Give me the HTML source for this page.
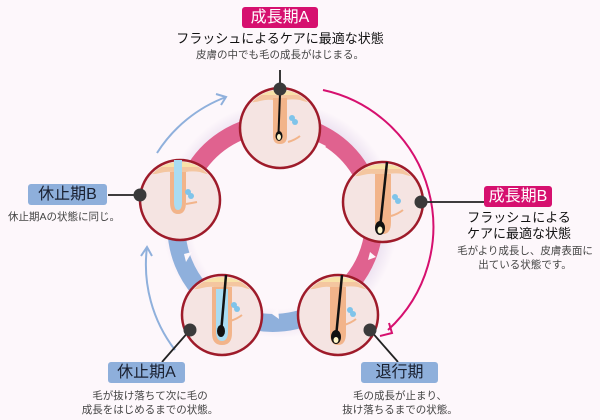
<!DOCTYPE html>
<html><head><meta charset="utf-8"><style>
html,body{margin:0;padding:0;background:#fdf7fb;}
body{width:600px;height:420px;position:relative;overflow:hidden;font-family:"Liberation Sans","Noto Sans CJK JP",sans-serif;}
.t{position:absolute;text-align:center;white-space:nowrap;color:#222;}
.box{position:absolute;border-radius:3px;text-align:center;font-size:16px;line-height:21px;}
.pk{background:#d6106f;color:#fff;}
.bl{background:#8eafdb;color:#1a2030;}
.s{font-size:10.5px;color:#444;line-height:14px;}
.m{font-size:13px;color:#111;line-height:16px;}
</style></head><body>
<svg width="600" height="420" style="position:absolute;left:0;top:0">
<defs>
<radialGradient id="glow" cx="50%" cy="50%" r="50%"><stop offset="75%" stop-color="#fdf7fb"/><stop offset="88%" stop-color="#eee4f2"/><stop offset="100%" stop-color="#fdf7fb"/></radialGradient>
<clipPath id="cc"><circle r="38"/></clipPath>
<g id="cir">
<circle r="40" fill="#f5e4e2"/>
<g clip-path="url(#cc)">
<path d="M-40,-40 H40 V-26 Q30,-24 20,-28 Q8,-30 0,-26 Q-10,-30 -20,-27 Q-30,-24 -40,-28Z" fill="#f4c6a0"/>
<rect x="-40" y="-40" width="80" height="7" fill="#f8e2a8"/>
</g>
<circle r="40" fill="none" stroke="#9e1b2a" stroke-width="2.5"/>
</g>
</defs>
<circle cx="280" cy="220" r="118" fill="url(#glow)"/>
<g fill="none" stroke-width="18">
<path d="M 196 168 A 97 97 0 0 1 360 170" stroke="#e0628f"/>
<path d="M 360 170 A 97 97 0 0 1 352 282" stroke="#e0628f"/>
<path d="M 352 282 A 97 97 0 0 1 200 290" stroke="#8fb0dc"/>
<path d="M 200 290 A 97 97 0 0 1 196 168" stroke="#8fb0dc"/>
</g>
<g fill="#fdf7fb">
<path d="M255 128 l6 7 l-6 7z" opacity=".8"/>
<path d="M318 142 l8 4 l-5 7z"/>
<path d="M370 252 l6 5 l-8 3z"/>
<path d="M278 307 l-6 7 l7 5z"/>
<path d="M186 262 l-2 -8 l8 -2z"/>
</g>
<path d="M 323 90 A 140 140 0 0 1 388 330" fill="none" stroke="#d6106f" stroke-width="2"/>
<path d="M 380 336 l12 -3 l-3 -10" fill="none" stroke="#d6106f" stroke-width="2"/>
<path d="M 157 153 A 140 140 0 0 1 226 97" fill="none" stroke="#8fb0dc" stroke-width="2"/>
<path d="M 216 94 l10 3 l-5 8" fill="none" stroke="#8fb0dc" stroke-width="2"/>
<path d="M 175 350 A 140 140 0 0 1 147 247" fill="none" stroke="#8fb0dc" stroke-width="2"/>
<path d="M 141 256 l6 -9 l5 9" fill="none" stroke="#8fb0dc" stroke-width="2"/>
<g stroke="#222" stroke-width="1.8">
<line x1="280" y1="70" x2="280" y2="88"/>
<line x1="420" y1="202" x2="484" y2="202"/>
<line x1="108" y1="195" x2="140" y2="195"/>
<line x1="190" y1="330" x2="162" y2="362"/>
<line x1="370" y1="330" x2="398" y2="362"/>
</g>
<g transform="translate(280,128)"><use href="#cir"/>
<path d="M-7,-30 L-7,8 Q-7,16 0,16 Q7,16 7,8 L7,-30" fill="#f2b48a"/>
<path d="M0,-34 L-1.5,6" stroke="#111" stroke-width="2"/><ellipse cx="-1" cy="8" rx="3.5" ry="5" fill="#111"/><ellipse cx="-1" cy="9" rx="2" ry="3" fill="#fff6c8"/>
<circle cx="12" cy="-10" r="3" fill="#7fc4ea"/><circle cx="15" cy="-6" r="3" fill="#7fc4ea"/><path d="M8,14 Q15,12 20,8" stroke="#f2b48a" stroke-width="2" fill="none"/></g>
<g transform="translate(383,202)"><use href="#cir"/>
<path d="M-8,-28 L-8,20 Q-8,32 0,32 Q8,32 8,20 L8,-28" fill="#f2b48a"/>
<path d="M4,-40 L-3,26" stroke="#111" stroke-width="2.5"/><ellipse cx="-3" cy="26" rx="5" ry="7" fill="#111"/><ellipse cx="-3" cy="28" rx="2.5" ry="3.5" fill="#fff6c8"/>
<circle cx="12" cy="-5" r="3" fill="#7fc4ea"/><circle cx="15" cy="-1" r="3" fill="#7fc4ea"/><path d="M8,14 Q15,12 20,8" stroke="#f2b48a" stroke-width="2" fill="none"/></g>
<g transform="translate(338,315)"><use href="#cir"/>
<path d="M-8,-28 L-8,18 Q-8,30 0,30 Q8,30 8,18 L8,-28" fill="#f2b48a"/>
<path d="M4,-40 L-2,22" stroke="#111" stroke-width="2.5"/><ellipse cx="-2" cy="22" rx="5" ry="7" fill="#111"/><ellipse cx="-2" cy="25" rx="2.5" ry="3" fill="#fff6c8"/>
<circle cx="12" cy="-5" r="3" fill="#7fc4ea"/><circle cx="15" cy="-1" r="3" fill="#7fc4ea"/><path d="M6,10 Q13,8 18,4" stroke="#f2b48a" stroke-width="2" fill="none"/></g>
<g transform="translate(222,315)"><use href="#cir"/>
<path d="M-10,-28 L-10,18 Q-10,30 0,30 Q10,30 10,18 L10,-28" fill="#f2b48a"/>
<path d="M-6,-26 L-6,16 Q-6,26 0,26 Q6,26 6,16 L6,-26" fill="#a9dcf2"/>
<path d="M4,-40 L-1,18" stroke="#111" stroke-width="2.5"/><ellipse cx="-1" cy="16" rx="4" ry="6" fill="#111"/>
<circle cx="12" cy="-10" r="3" fill="#7fc4ea"/><circle cx="15" cy="-6" r="3" fill="#7fc4ea"/><path d="M8,6 Q15,4 20,0" stroke="#f2b48a" stroke-width="2" fill="none"/></g>
<g transform="translate(180,200)"><use href="#cir"/>
<path d="M-10,-28 L-10,2 Q-10,14 -2,14 Q6,14 6,2 L6,-28" fill="#f2b48a"/>
<path d="M-6,-40 L-6,2 Q-6,10 -2,10 Q2,10 2,2 L2,-40" fill="#a9dcf2"/>
<circle cx="8" cy="-8" r="3" fill="#7fc4ea"/><circle cx="11" cy="-4" r="3" fill="#7fc4ea"/><path d="M6,4 Q12,3 17,2" stroke="#f2b48a" stroke-width="2" fill="none"/></g>
<g fill="#3a3a3a"><circle cx="280" cy="89" r="6.5"/><circle cx="421" cy="202" r="6.5"/><circle cx="140" cy="195" r="6.5"/><circle cx="190" cy="330" r="6.5"/><circle cx="370" cy="330" r="6.5"/></g>
</svg>
<div class="box pk" style="left:242px;top:7px;width:76px;height:21px;">成長期A</div>
<div class="t m" style="left:150px;width:260px;top:31px;">フラッシュによるケアに最適な状態</div>
<div class="t s" style="left:150px;width:260px;top:48px;">皮膚の中でも毛の成長がはじまる。</div>
<div class="box pk" style="left:484px;top:186px;width:68px;height:21px;">成長期B</div>
<div class="t m" style="left:460px;width:118px;top:210px;">フラッシュによる<br>ケアに最適な状態</div>
<div class="t s" style="left:455px;width:140px;top:244px;">毛がより成長し、皮膚表面に<br>出ている状態です。</div>
<div class="box bl" style="left:28px;top:184px;width:79px;height:21px;">休止期B</div>
<div class="t s" style="left:8px;width:130px;top:210px;text-align:left;">休止期Aの状態に同じ。</div>
<div class="box bl" style="left:108px;top:362px;width:77px;height:21px;">休止期A</div>
<div class="t s" style="left:70px;width:160px;top:389px;">毛が抜け落ちて次に毛の<br>成長をはじめるまでの状態。</div>
<div class="box bl" style="left:361px;top:362px;width:77px;height:21px;">退行期</div>
<div class="t s" style="left:330px;width:140px;top:389px;">毛の成長が止まり、<br>抜け落ちるまでの状態。</div>
</body></html>
